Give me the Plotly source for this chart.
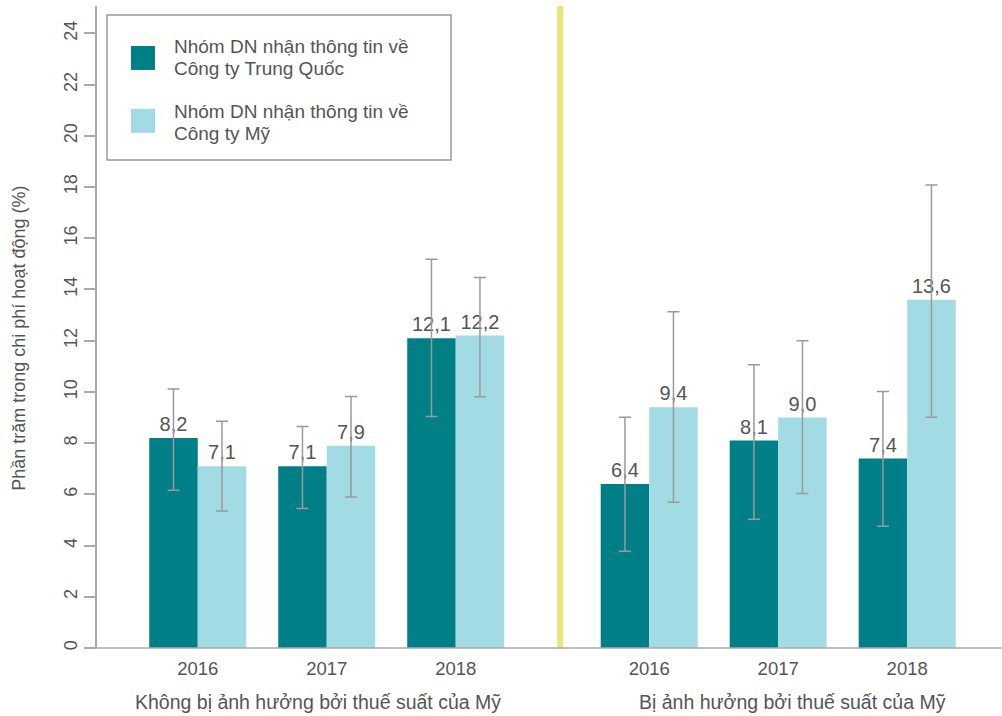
import plotly.graph_objects as go

# ---- data ----
years = ["2016", "2017", "2018", "2016", "2017", "2018"]
group_of = [0, 0, 0, 1, 1, 1]
group_labels = ["Không bị ảnh hưởng bởi thuế suất của Mỹ", "Bị ảnh hưởng bởi thuế suất của Mỹ"]
series_names = [["Nhóm DN nhận thông tin về", "Công ty Trung Quốc"],
                ["Nhóm DN nhận thông tin về", "Công ty Mỹ"]]

cn_values = [8.2, 7.1, 12.1, 6.4, 8.1, 7.4]
cn_low = [6.16, 5.45, 9.04, 3.78, 5.03, 4.75]
cn_high = [10.11, 8.65, 15.18, 9.01, 11.06, 10.02]

us_values = [7.1, 7.9, 12.2, 9.4, 9.0, 13.6]
us_low = [5.35, 5.90, 9.81, 5.69, 6.03, 9.01]
us_high = [8.85, 9.82, 14.47, 13.13, 12.00, 18.08]

# ---- styling ----
FONT = "Liberation Sans, Arial, Helvetica, sans-serif"
TXT = "#555555"
DARK = "#007F86"
LIGHT = "#A3DBE5"
GRAY = "#9a9a9a"
YELLOW = "#E6E877"

W, H = 1002, 716
ML, MR, MT, MB = 97, 0, 6, 67.5
PW, PH = W - ML - MR, H - MT - MB


def px_x(px):
    return (px - ML) / PW


def px_y(py):
    return (H - MB - py) / PH


# positions: half-slot extra gap between the two groups
pos = [i + 0.5 * g for i, g in enumerate(group_of)]


def fmt(v):
    return f"{v:.1f}".replace(".", ",")


def bar(name, vals, lo, hi, color):
    return go.Bar(
        x=pos, y=vals, name=" ".join(name),
        marker=dict(color=color, line=dict(width=0)),
        text=[fmt(v) for v in vals], textposition="outside",
        textfont=dict(family=FONT, size=20, color=TXT),
        cliponaxis=False,
        error_y=dict(type="data", symmetric=False,
                     array=[h - v for h, v in zip(hi, vals)],
                     arrayminus=[v - l for v, l in zip(vals, lo)],
                     color=GRAY, thickness=1.5, width=6),
        showlegend=False,
    )


fig = go.Figure()
fig.add_trace(bar(series_names[0], cn_values, cn_low, cn_high, DARK))
fig.add_trace(bar(series_names[1], us_values, us_low, us_high, LIGHT))

fig.update_layout(
    width=W, height=H,
    margin=dict(l=ML, r=MR, t=MT, b=MB, autoexpand=False),
    paper_bgcolor="white", plot_bgcolor="white",
    barmode="group", bargap=0.248, bargroupgap=0,
    font=dict(family=FONT, color=TXT, size=18),
    xaxis=dict(range=[-0.781, 6.235], tickvals=pos, ticktext=years,
               showline=False, showgrid=False, zeroline=False, ticks="",
               ticklabelstandoff=7, automargin=False,
               tickfont=dict(family=FONT, size=18.5, color=TXT)),
    yaxis=dict(range=[0, 25.07], dtick=2, tick0=0, showgrid=False, zeroline=False,
               showline=True, linecolor="#aaaaaa", linewidth=1.5, automargin=False,
               ticks="outside", ticklen=11, tickcolor="#aaaaaa", tickwidth=1.5,
               tickangle=-90, tickfont=dict(family=FONT, size=18, color=TXT)),
)

# x baseline (extends slightly left of the y axis)
fig.add_shape(type="line", xref="paper", yref="paper", x0=px_x(86), x1=1, y0=0, y1=0,
              line=dict(color="#aaaaaa", width=1.5))
# yellow separator between groups
sep = (pos[2] + pos[3]) / 2 + 0.06
fig.add_shape(type="line", xref="x", yref="paper", x0=sep, x1=sep, y0=0, y1=1,
              line=dict(color=YELLOW, width=6), layer="below")

# y title
fig.add_annotation(text="Phần trăm trong chi phí hoạt động (%)", textangle=-90,
                   xref="paper", yref="paper", x=px_x(19), y=px_y(339),
                   xanchor="center", yanchor="middle", showarrow=False,
                   font=dict(family=FONT, size=18, color=TXT))

# group labels
shifts = [-9, 14]
for g, lab in enumerate(group_labels):
    gp = [p for p, gg in zip(pos, group_of) if gg == g]
    fig.add_annotation(text=lab, xref="x", yref="paper", x=sum(gp) / len(gp), y=px_y(703),
                       xshift=shifts[g], xanchor="center", yanchor="middle", showarrow=False,
                       font=dict(family=FONT, size=19.5, color=TXT))

# legend box (manual, large swatches)
fig.add_shape(type="rect", xref="paper", yref="paper", x0=px_x(107), x1=px_x(451),
              y0=px_y(160), y1=px_y(15),
              line=dict(color="#999999", width=1.5), fillcolor="white")
legend_rows = [(46, 70, DARK, series_names[0], (46.5, 68.5)),
               (109, 133, LIGHT, series_names[1], (111.5, 133.5))]
for top, bot, col, lines, ys in legend_rows:
    fig.add_shape(type="rect", xref="paper", yref="paper", x0=px_x(131), x1=px_x(155),
                  y0=px_y(bot), y1=px_y(top), line=dict(width=0), fillcolor=col)
    for line, ly in zip(lines, ys):
        fig.add_annotation(text=line, xref="paper", yref="paper", x=px_x(172), y=px_y(ly),
                           xanchor="left", yanchor="middle", align="left", showarrow=False,
                           font=dict(family=FONT, size=19, color=TXT))

fig.write_html("out.html", config={"displayModeBar": False},
               post_script="document.body.style.margin='0';")
